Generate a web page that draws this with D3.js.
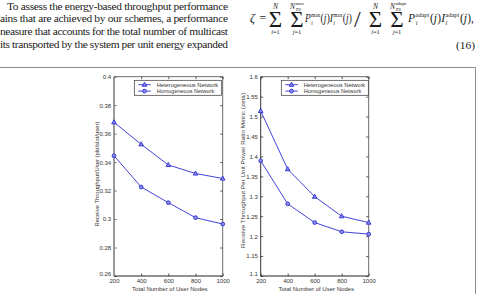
<!DOCTYPE html>
<html><head><meta charset="utf-8">
<script src="https://cdn.jsdelivr.net/npm/d3@7"></script>
<style>html,body{margin:0;padding:0;background:#fff;overflow:hidden}</style>
</head><body>
<svg id="c" width="478" height="294"></svg>
<script>
// ---------- data ----------
const xValues = [200, 400, 600, 800, 1000];
const xTickLabels = ["200", "400", "600", "800", "1000"];
const seriesNames = ["Heterogeneous Network", "Homogeneous Network"];
const leftHetero = [0.368, 0.3525, 0.338, 0.332, 0.3285];
const leftHomo = [0.3445, 0.3225, 0.3115, 0.301, 0.2965];
const rightHetero = [1.514, 1.368, 1.299, 1.250, 1.234];
const rightHomo = [1.389, 1.281, 1.234, 1.211, 1.205];
const leftYTicks = [0.26, 0.28, 0.30, 0.32, 0.34, 0.36, 0.38, 0.40];
const leftYTickLabels = ["0.26", "0.28", "0.3", "0.32", "0.34", "0.36", "0.38", "0.4"];
const rightYTicks = [1.10, 1.15, 1.20, 1.25, 1.30, 1.35, 1.40, 1.45, 1.50, 1.55, 1.60];
const rightYTickLabels = ["1.1", "1.15", "1.2", "1.25", "1.3", "1.35", "1.4", "1.45", "1.5", "1.55", "1.6"];
const leftYTitle = "Receive Throughput/User (pkt/slot/user)";
const rightYTitle = "Receive Throughput Per Unit Power Ratio Metric (zeta)";
const xTitle = "Total Number of User Nodes";
const paragraphLines = [
  "To assess the energy-based throughput performance",
  "ains that are achieved by our schemes, a performance",
  "neasure that accounts for the total number of multicast",
  "its transported by the system per unit energy expanded"
];

const svg = d3.select("#c");
const blue = "#2f2fd2";
const SANS = "Liberation Sans, Arial, sans-serif";
const SERIF = "Liberation Serif, Times New Roman, serif";
const ink = "#1a1a1a";

// ---------- paragraph ----------
const para = svg.append("g").attr("font-family", SERIF).attr("font-size", 11.4).attr("fill", ink);
paragraphLines.forEach((s, i) => {
  const x0 = i === 0 ? 7 : 0;
  para.append("text").attr("x", x0).attr("y", 9.8 + i * 12.6)
    .attr("textLength", 228 - x0).attr("lengthAdjust", "spacing").text(s);
});

// ---------- equation ----------
const eq = svg.append("g").attr("font-family", SERIF).attr("fill", ink);
const mainBase = 22;
function mw(str, size, italic) {
  const t = svg.append("text").attr("font-family", SERIF).attr("font-size", size)
    .attr("font-style", italic ? "italic" : "normal").text(str);
  const w = t.node().getComputedTextLength(); t.remove(); return w;
}
function tsp(t, s, x, y, size, it) {
  const e = t.append("tspan").attr("font-size", size).attr("font-style", it ? "italic" : "normal").text(s);
  if (x !== null) e.attr("x", x);
  if (y !== null) e.attr("y", y);
  return e;
}
function term(x0, x1, pieces) {
  const items = []; let x = 0;
  pieces.forEach(p => {
    if (p.sup !== undefined) {
      const w = Math.max(mw(p.sup, 6.5, false), mw(p.sub, 6.5, true));
      items.push({ t: p.sup, x, y: mainBase - 5, size: 6.5 });
      items.push({ t: p.sub, x: x + 0.3, y: mainBase + 3, size: 6.5, it: true });
      x += w + 0.5;
    } else {
      items.push({ t: p.t, x, y: mainBase, size: 11.5, it: p.it });
      x += mw(p.t, 11.5, p.it) + (p.it ? 0.3 : 0);
    }
  });
  const g = eq.append("g").attr("transform", `translate(${x0},0) scale(${(x1 - x0) / x},1)`);
  const t = g.append("text");
  items.forEach(it => tsp(t, it.t, it.x, it.y, it.size, it.it));
}
function sigma(cx, lo, ts) {
  const t = eq.append("text");
  const ws = mw("\u03A3", 23, false);
  tsp(t, "\u03A3", cx - ws / 2, mainBase + 4.5, 23, false);
  const wl = mw(lo, 6.5, true) + mw("=1", 6.5, false);
  tsp(t, lo, cx - wl / 2, mainBase + 11.5, 6.5, true);
  tsp(t, "=1", null, null, 6.5, false);
  if (ts) {
    tsp(t, "N", cx - 7, mainBase - 13.5, 7.5, true);
    tsp(t, "TS", cx - 1.6, mainBase - 11.5, 5, true);
    tsp(t, ts, cx - 1.6, mainBase - 17.2, 5, false);
  } else {
    const wn = mw("N", 7.5, true);
    tsp(t, "N", cx - wn / 2, mainBase - 13.5, 7.5, true);
  }
}
eq.append("text").attr("x", 250).attr("y", mainBase).attr("font-size", 12).attr("font-style", "italic").text("\u03B6");
eq.append("text").attr("x", 259.5).attr("y", mainBase).attr("font-size", 11.5).text("=");
sigma(275.5, "i");
sigma(297, "j", "max");
term(305, 352, [{ t: "P", it: true }, { sup: "max", sub: "i" }, { t: "(" }, { t: "j", it: true }, { t: ")" },
  { t: "I", it: true }, { sup: "max", sub: "i" }, { t: "(" }, { t: "j", it: true }, { t: ")" }]);
eq.append("text").attr("x", 354).attr("y", mainBase + 5).attr("font-size", 24).text("/");
sigma(375.5, "i");
sigma(397, "j", "adapt");
term(408, 474, [{ t: "P", it: true }, { sup: "adapt", sub: "i" }, { t: "(" }, { t: "j", it: true }, { t: ")" },
  { t: "I", it: true }, { sup: "adapt", sub: "i" }, { t: "(" }, { t: "j", it: true }, { t: ")," }]);
eq.append("text").attr("x", 475).attr("y", 48.5).attr("font-size", 11.4).attr("text-anchor", "end").text("(16)");

// ---------- frame ----------
svg.append("path").attr("d", "M0,67.5H475.5V294").attr("fill", "none").attr("stroke", "#8c8c8c").attr("stroke-width", 1);

// ---------- panels ----------
function panel(o) {
  const top = 76.7, bottom = 276;
  const x = d3.scaleLinear().domain([200, 1000]).range([o.x0, o.x1]);
  const y = d3.scaleLinear().domain([o.yTicks[0], o.yTicks[o.yTicks.length - 1]]).range([bottom, top]);
  const g = svg.append("g").attr("font-family", SANS);
  g.append("rect").attr("x", o.x0).attr("y", top).attr("width", o.x1 - o.x0).attr("height", bottom - top).attr("fill", "#fff");

  const fmtX = (d, i) => xTickLabels[i];
  const fmtY = (d, i) => o.yLabels[i];
  const ax = [
    g.append("g").attr("transform", `translate(0,${bottom})`).call(d3.axisBottom(x).tickValues(xValues).tickFormat(fmtX).tickSize(-2.5).tickSizeOuter(0).tickPadding(2.3)),
    g.append("g").attr("transform", `translate(0,${top})`).call(d3.axisTop(x).tickValues(xValues).tickFormat("").tickSize(-2.5).tickSizeOuter(0)),
    g.append("g").attr("transform", `translate(${o.x0},0)`).call(d3.axisLeft(y).tickValues(o.yTicks).tickFormat(fmtY).tickSize(-2.5).tickSizeOuter(0).tickPadding(2.8)),
    g.append("g").attr("transform", `translate(${o.x1},0)`).call(d3.axisRight(y).tickValues(o.yTicks).tickFormat("").tickSize(-2.5).tickSizeOuter(0))
  ];
  ax.forEach(a => {
    a.select(".domain").remove();
    a.selectAll("line").attr("stroke", "#333").attr("stroke-width", 0.8);
    a.selectAll("text").attr("font-family", SANS).attr("font-size", 6).attr("fill", "#333");
  });
  // lowest y label sits slightly higher, as in the reference
  ax[2].selectAll(".tick").filter((d, i) => i === 0).select("text").attr("dy", "-0.05em");
  // box
  g.append("line").attr("x1", o.x0).attr("x2", o.x1).attr("y1", top).attr("y2", top).attr("stroke", "#444").attr("stroke-width", 0.8);
  g.append("line").attr("x1", o.x1).attr("x2", o.x1).attr("y1", top).attr("y2", bottom).attr("stroke", "#444").attr("stroke-width", 0.8);
  g.append("line").attr("x1", o.x0).attr("x2", o.x1).attr("y1", bottom).attr("y2", bottom).attr("stroke", "#222").attr("stroke-width", 1.2);
  g.append("line").attr("x1", o.x0).attr("x2", o.x0).attr("y1", top).attr("y2", bottom).attr("stroke", o.leftSpine).attr("stroke-width", o.leftSpineW);

  // titles
  g.append("text").attr("x", (o.x0 + o.x1) / 2 + 1.5).attr("y", 290.5).attr("text-anchor", "middle")
    .attr("font-size", 6.1).attr("fill", "#333").attr("textLength", 75.5).attr("lengthAdjust", "spacingAndGlyphs").text(xTitle);
  g.append("text").attr("transform", `translate(${o.ytx},${o.ytc}) rotate(-90)`).attr("text-anchor", "middle")
    .attr("font-size", 6).attr("fill", "#333").attr("textLength", o.ytLen).attr("lengthAdjust", "spacingAndGlyphs").text(o.yTitle);

  // series
  const line = d3.line().x((d, i) => x(xValues[i])).y(d => y(d));
  [o.s1, o.s2].forEach((s, k) => {
    g.append("path").attr("d", line(s)).attr("fill", "none").attr("stroke", blue).attr("stroke-width", 0.9);
    s.forEach((v, i) => marker(g, k, x(xValues[i]), y(v)));
  });

  // legend
  const lx = o.lx0, ly = 80.3;
  g.append("rect").attr("x", lx).attr("y", ly).attr("width", 87).attr("height", 15).attr("fill", "#fff").attr("stroke", "#333").attr("stroke-width", 0.7);
  seriesNames.forEach((nm, k) => {
    const yy = ly + 4.4 + k * 6.4;
    g.append("line").attr("x1", lx + 4).attr("x2", lx + 16.5).attr("y1", yy).attr("y2", yy).attr("stroke", blue).attr("stroke-width", 0.9);
    marker(g, k, lx + 10.2, yy);
    g.append("text").attr("x", lx + 22.4).attr("y", yy + 2).attr("font-size", 5.8).attr("fill", "#333")
      .attr("textLength", k === 0 ? 61.5 : 57.5).attr("lengthAdjust", "spacingAndGlyphs").text(nm);
  });
}
function marker(g, k, cx, cy) {
  if (k === 0) {
    g.append("path").attr("d", `M${cx},${cy - 2.5}L${cx + 2.3},${cy + 1.6}L${cx - 2.3},${cy + 1.6}Z`)
      .attr("fill", "#8a8ae8").attr("stroke", blue).attr("stroke-width", 0.9);
  } else {
    g.append("circle").attr("cx", cx).attr("cy", cy).attr("r", 1.9)
      .attr("fill", "#8a8ae8").attr("stroke", blue).attr("stroke-width", 0.9);
  }
}

panel({ x0: 114, x1: 222.7, yTicks: leftYTicks, yLabels: leftYTickLabels, s1: leftHetero, s2: leftHomo,
  yTitle: leftYTitle, ytx: 98.5, ytc: 174, ytLen: 105, lx0: 134.3, leftSpine: "#8f8f8f", leftSpineW: 1.8 });
panel({ x0: 260.7, x1: 368.7, yTicks: rightYTicks, yLabels: rightYTickLabels, s1: rightHetero, s2: rightHomo,
  yTitle: rightYTitle, ytx: 245, ytc: 170.5, ytLen: 155, lx0: 281.3, leftSpine: "#333", leftSpineW: 1 });
</script>
</body></html>
